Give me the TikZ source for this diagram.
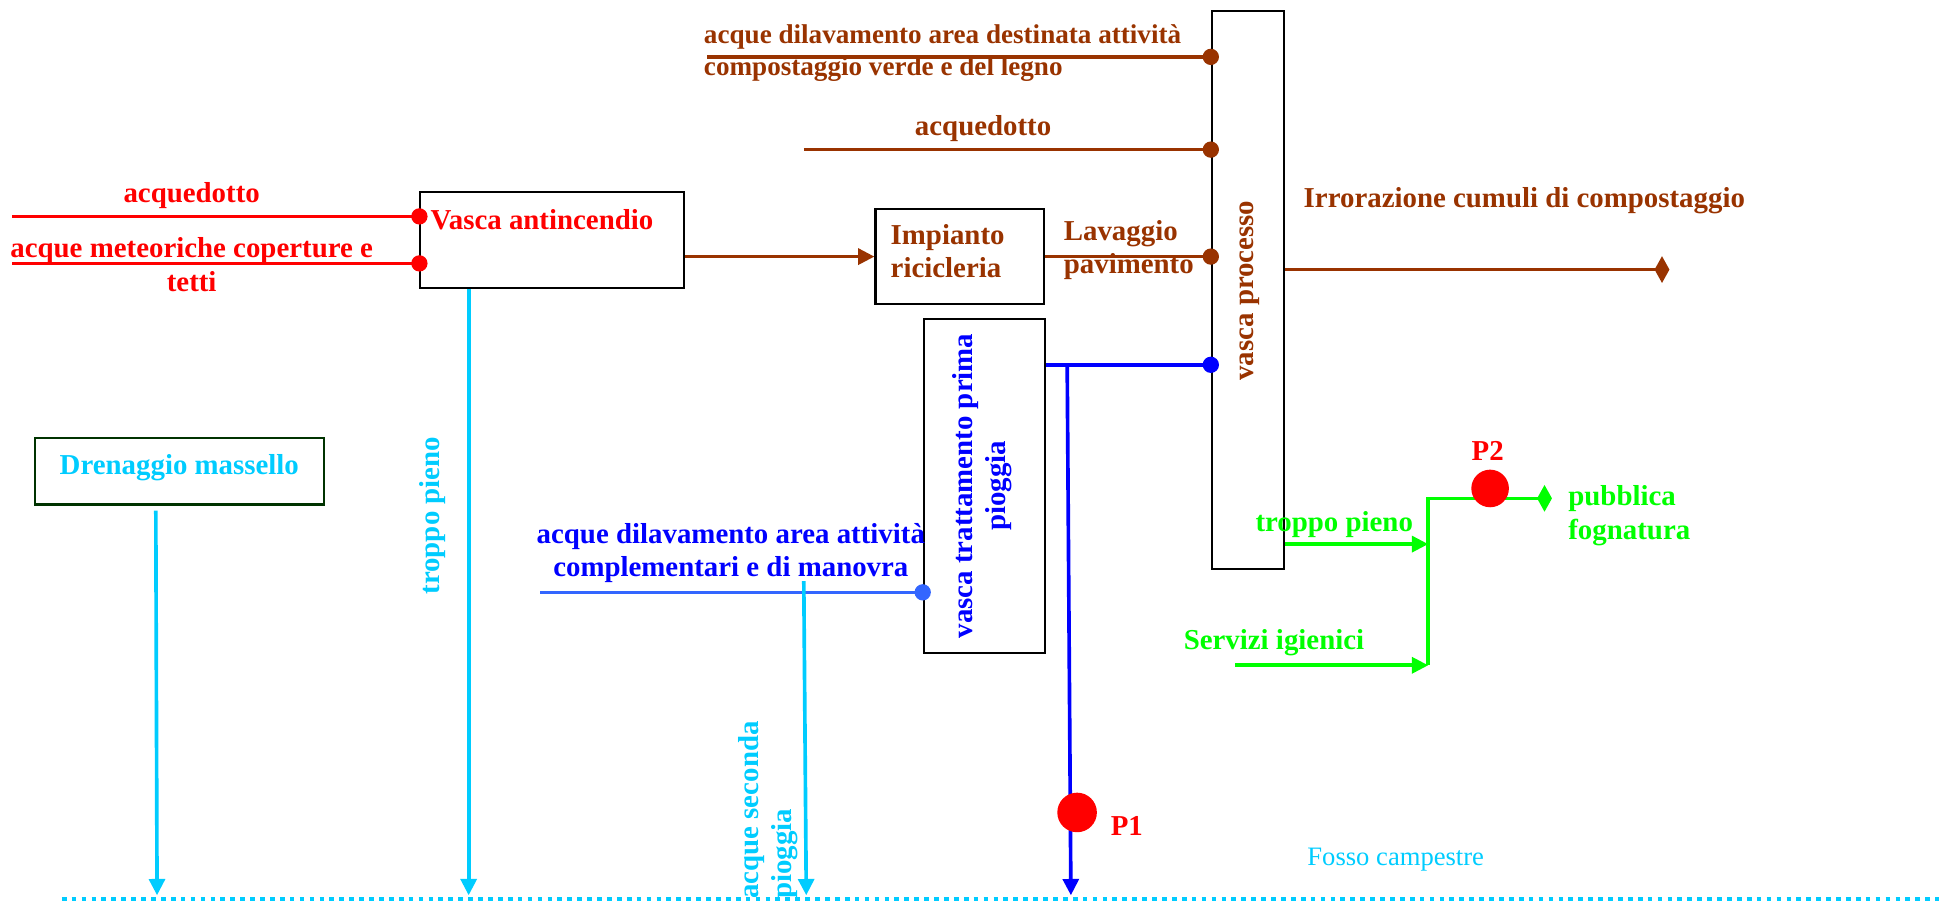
\documentclass[tikz,border=0pt]{standalone}
\usepackage{fontspec}
\setmainfont{Liberation Serif}
\usetikzlibrary{arrows.meta,fit}
\definecolor{cred}{HTML}{FF0000}
\definecolor{cbrown}{HTML}{993300}
\definecolor{cblue}{HTML}{0000FF}
\definecolor{croyal}{HTML}{3366FF}
\definecolor{ccyan}{HTML}{00CCFF}
\definecolor{cgreen}{HTML}{00FF00}
\definecolor{cdkgreen}{HTML}{003300}
\tikzset{
  box/.style={draw=black,line width=1.2pt,inner sep=0pt},
  txt/.style={inner sep=0pt,font=\bfseries\fontsize{16.6}{19}\selectfont},
  lin/.style={line width=2.1pt},
  jdot/.style={circle,fill,inner sep=0pt,minimum size=3.3mm},
  tri/.style={-{Triangle[length=3.3mm,width=3.2mm]}},
  dia/.style={-{Diamond[length=3mm,width=5.4mm]}},
}
\begin{document}
\begin{tikzpicture}[x=0.025cm,y=-0.025cm]
\useasboundingbox (0,0) rectangle (1568,729);
% boxes
\node[box,fit={(340,155) (553,233)}] (vaa) {};
\node[box,fit={(708,169) (844,246)}] (ric) {};
\node[box,fit={(980,9) (1038,460)}] (vp) {};
\node[box,fit={(747,258) (845,528)}] (vtp) {};
\node[box,draw=cdkgreen,fit={(28,354) (262,408)}] (dren) {};
% box texts
\node[txt,text=cred,anchor=west] (tvaa) at (348,178) {Vasca antincendio};
\node[txt,text=cbrown,anchor=west,align=left] (tric) at (720,203) {Impianto\\ricicleria};
\node[txt,text=cbrown,rotate=90] (tvp) at (1011,235) {vasca processo};
\node[txt,text=cblue,rotate=90,align=center] (tvtp) at (794,393) {vasca trattamento prima\\pioggia};
\node[txt,text=ccyan] (tdren) at (145,378) {Drenaggio massello};
% red inputs
\coordinate (ra1) at (10,175);
\coordinate (ra2) at (10,213);
\draw[lin,cred] (ra1) -- (ra1 -| vaa.west);
\draw[lin,cred] (ra2) -- (ra2 -| vaa.west);
\node[jdot,cred] (d1) at (ra1 -| vaa.west) {};
\node[jdot,cred] (d2) at (ra2 -| vaa.west) {};
\node[txt,text=cred] (lra1) at (155,158) {acquedotto};
\node[txt,text=cred,align=center] (lra2) at (155,214) {acque meteoriche coperture e\\tetti};
% brown
\draw[lin,cbrown,tri] (vaa.east |- ric.west) -- (ric.west);
\draw[lin,cbrown] (ric.east) -- (ric.east -| vp.west);
\node[jdot,cbrown] (d3) at (ric.east -| vp.west) {};
\node[txt,text=cbrown,anchor=west,align=left] (llav) at (860,202) {Lavaggio\\pavimento};
\coordinate (b1) at (572,46);
\draw[lin,cbrown] (b1) -- (b1 -| vp.west);
\node[jdot,cbrown] (d4) at (b1 -| vp.west) {};
\node[txt,text=cbrown,anchor=west,align=left,font=\bfseries\fontsize{15.6}{18.5}\selectfont] (lb1) at (569,43) {acque dilavamento area destinata attività\\compostaggio verde e del legno};
\coordinate (b2) at (650,121);
\draw[lin,cbrown] (b2) -- (b2 -| vp.west);
\node[jdot,cbrown] (d5) at (b2 -| vp.west) {};
\node[txt,text=cbrown] (lb2) at (795,104) {acquedotto};
\coordinate (irr) at (1350,218);
\draw[lin,cbrown,dia] (vp.east |- irr) -- (irr);
\node[txt,text=cbrown,anchor=west] (lirr) at (1054,162) {Irrorazione cumuli di compostaggio};
% blue
\coordinate (bj) at (863,295);
\coordinate (bend) at (866,724);
\draw[lin,cblue] (vtp.east |- bj) -- (bj -| vp.west);
\node[jdot,cblue] (d6) at (bj -| vp.west) {};
\draw[lin,cblue,tri] (bj) -- (bend);
\node[circle,fill=cred,inner sep=0pt,minimum width=7.4mm,minimum height=8mm] (p1) at (871,657) {};
\node[txt,text=cred,anchor=west] (lp1) at (898,668) {P1};
% royal blue
\coordinate (rb) at (437,479);
\draw[lin,croyal] (rb) -- (rb -| vtp.west);
\node[jdot,croyal] (d7) at (rb -| vtp.west) {};
\node[txt,text=cblue,align=center] (lrb) at (591,447) {acque dilavamento area attività\\complementari e di manovra};
% cyan
\coordinate (c1) at (650,470);
\coordinate (c2) at (652,724);
\draw[lin,ccyan,tri] (c1) -- (c2);
\node[txt,text=ccyan,rotate=90,anchor=north west,align=left] (lc1) at (597,727) {acque seconda\\pioggia};
\coordinate (tp) at (379,724);
\draw[lin,ccyan,tri] (tp |- vaa.south) -- (tp);
\node[txt,text=ccyan,rotate=90] (ltp) at (350,417) {troppo pieno};
\coordinate (dr1) at (126,413);
\coordinate (dr2) at (127,724);
\draw[lin,ccyan,tri] (dr1) -- (dr2);
\coordinate (f1) at (50,727);
\coordinate (f2) at (1568,727);
\draw[ccyan,line width=2.8pt,dash pattern=on 2.7pt off 3pt] (f1) -- (f2);
\node[inner sep=0pt,text=ccyan,font=\fontsize{15.3}{19}\selectfont,anchor=west] (lf) at (1057,695) {Fosso campestre};
% green
\coordinate (g1) at (1155,440);
\coordinate (g0) at (999,538);
\coordinate (g2) at (1155,538);
\coordinate (g3) at (1155,403);
\coordinate (g4) at (1255,403);
\draw[lin,cgreen,tri] (vp.east |- g1) -- (g1);
\draw[lin,cgreen,tri] (g0) -- (g2);
\draw[lin,cgreen,dia] (g2) -- (g3) -- (g4);
\node[txt,text=cgreen,anchor=west] (lg1) at (1015,424) {troppo pieno};
\node[txt,text=cgreen,anchor=west] (lg0) at (957,520) {Servizi igienici};
\node[txt,text=cgreen,anchor=west,align=left] (lg4) at (1268,417) {pubblica\\fognatura};
\node[circle,fill=cred,inner sep=0pt,minimum size=7.6mm] (p2) at (1205,395) {};
\node[txt,text=cred] (lp2) at (1203,365) {P2};
\end{tikzpicture}
\end{document}
